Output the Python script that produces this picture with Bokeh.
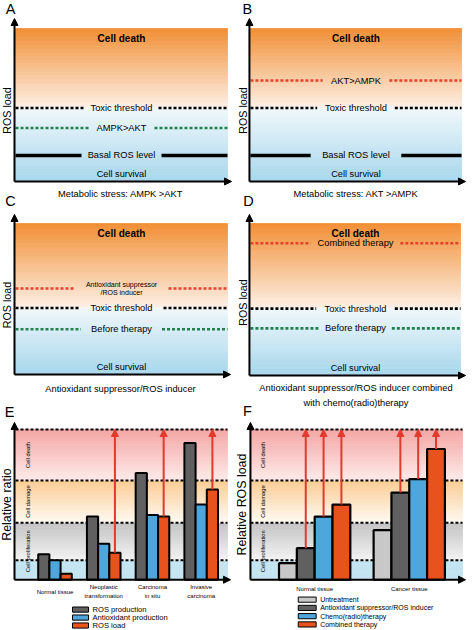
import numpy as np
from bokeh.plotting import figure
from bokeh.models import Range1d, Arrow, NormalHead, ColumnDataSource
from bokeh.layouts import gridplot
from bokeh.embed import file_html
from bokeh.resources import INLINE
from bokeh.core.properties import value

FONT = "Liberation Sans"

# ---------------- data ----------------
# Panels A-D : ROS load levels (0 = x axis, 10 = top of the shaded box)
A_levels = ["Toxic threshold", "AMPK>AKT", "Basal ROS level"]
A_values = [4.8, 3.5, 1.7]
B_levels = ["AKT>AMPK", "Toxic threshold", "Basal ROS level"]
B_values = [6.6, 4.8, 1.7]
C_levels = ["Antioxidant suppressor\n/ROS inducer", "Toxic threshold", "Before therapy"]
C_values = [5.7, 4.4, 3.0]
D_levels = ["Combined therapy", "Toxic threshold", "Before therapy"]
D_values = [8.7, 4.4, 3.1]

# Panel E : relative ratio
E_groups = ["Normal tissue", "Neoplastic\ntransformation", "Carcinoma\nin situ", "Invasive\ncarcinoma"]
E_series = ["ROS production", "Antioxidant production", "ROS load"]
E_ros_production = [1.7, 4.2, 7.1, 9.1]
E_antioxidant_production = [1.3, 2.4, 4.3, 5.0]
E_ros_load = [0.4, 1.8, 4.2, 6.0]
E_arrow = [False, True, True, True]

# Panel F : relative ROS load
F_groups = ["Normal tissue", "Cancer tissue"]
F_series = ["Untreatment", "Antioxidant suppressor/ROS inducer",
            "Chemo(radio)therapy", "Combined therapy"]
F_untreatment = [1.1, 3.3]
F_antioxidant_suppressor = [2.1, 5.8]
F_chemo_radio_therapy = [4.2, 6.7]
F_combined_therapy = [5.0, 8.7]
F_arrow_series = [False, True, True, True]

# zones of panels E/F
zone_levels = [1.3, 3.8, 6.6, 10.0]
zone_labels = ["Cell proliferation", "Cell damage", "Cell death"]
zone_label_spans = [(0.0, 3.8), (3.8, 6.6), (6.6, 10.0)]

# ---------------- styling / layout ----------------
CELL_W = [236, 237]
CELL_H = 210
OUT_W = [236, 236]
OUT_H = [210, 210, 209]

ORANGE_TOP, ORANGE_LOW = "#f28f35", "#fdf1e8"
BLUE_HIGH, BLUE_BOTTOM = "#f1f8fb", "#a7d7ec"
RED_LINE = "#e5412b"
GREEN_LINE = "#23804f"
ARROW_RED = "#e23a2c"
C_DARK, C_BLUE, C_ORANGE, C_LIGHT = "#606060", "#4ea6dc", "#e8521d", "#c8c8c8"
ZONE_COLORS = [("#c4e4f1", "#c4e4f1"), ("#f4f4f4", "#c3c3c3"),
               ("#fffaf3", "#fbcd95"), ("#fdecea", "#f4a6a5")]


def hex2rgb(h):
    h = h.lstrip("#")
    return tuple(int(h[i:i + 2], 16) for i in (0, 2, 4))


def mix(c0, c1, t):
    a, b = hex2rgb(c0), hex2rgb(c1)
    return "#%02x%02x%02x" % tuple(int(round(a[i] + (b[i] - a[i]) * t)) for i in range(3))


class Panel:
    def __init__(self, w, h, refw, refh, px0, xv0, px1, xv1, py0, yv0, py1, yv1):
        self.kx = (xv1 - xv0) / (px1 - px0)
        self.ky = (yv1 - yv0) / (py1 - py0)
        self.px0, self.xv0, self.py0, self.yv0 = px0, xv0, py0, yv0
        self.p = figure(width=w, height=h, title=None,
                        x_range=Range1d(self.X(0), self.X(refw)),
                        y_range=Range1d(self.Y(refh), self.Y(0)),
                        output_backend="svg", toolbar_location=None, min_border=0,
                        x_axis_location=None, y_axis_location=None,
                        outline_line_color=None, background_fill_color="white",
                        border_fill_color="white")
        self.p.grid.grid_line_color = None

    def X(self, px):
        return self.xv0 + (px - self.px0) * self.kx

    def Y(self, py):
        return self.yv0 + (py - self.py0) * self.ky

    def dx(self, px):
        return px * abs(self.kx)

    def dy(self, py):
        return py * abs(self.ky)


def gradient(p, x0, x1, y0, y1, c0, c1, n=40):
    ys = np.linspace(y0, y1, n + 1)
    cols = [mix(c0, c1, (i + 0.5) / n) for i in range(n)]
    p.quad(left=x0, right=x1, bottom=np.minimum(ys[:-1], ys[1:]), top=np.maximum(ys[:-1], ys[1:]),
           fill_color=cols, line_color=cols, line_width=0.8)


def txt(p, x, y, s, size, angle=0.0, bold=False, align="center", baseline="middle", color="black"):
    p.text(x=[x], y=[y], text=[s], text_font=value(FONT), text_font_size=size,
           text_align=align, text_baseline=baseline, angle=angle, text_color=color,
           text_font_style="bold" if bold else "normal")


def arrows(p, x0, y0, x1, y1, color, width, size):
    src = ColumnDataSource(dict(x0=list(x0), y0=list(y0), x1=list(x1), y1=list(y1)))
    p.add_layout(Arrow(end=NormalHead(size=size, fill_color=color, line_color=color, line_width=1),
                       x_start="x0", y_start="y0", x_end="x1", y_end="y1", source=src,
                       line_color=color, line_width=width))


def top_panel(col, row, g, levels, values, colors, dashes, widths, gaps, lab_sizes,
              xlabels, ylabel_y, letters):
    P = Panel(OUT_W[col], OUT_H[row], CELL_W[col], CELL_H,
              g["box_l"], 0.0, g["box_r"], 1.0, g["base"], 0.0, g["top"], 10.0)
    p = P.p
    thr = values[levels.index("Toxic threshold")]
    gradient(p, 0, 1, thr, 10, ORANGE_LOW, ORANGE_TOP, 45)
    gradient(p, 0, 1, thr, 0, BLUE_HIGH, BLUE_BOTTOM, 40)
    # level lines with a gap for the label
    for lv, v, c, d, wd, gp, fs in zip(levels, values, colors, dashes, widths, gaps, lab_sizes):
        gd = P.dx(gp)
        p.segment(x0=[0, 0.5 + gd], x1=[0.5 - gd, 1], y0=[v, v], y1=[v, v],
                  line_color=c, line_width=wd, line_dash=d)
        lines = lv.split("\n")
        n = len(lines)
        for k, s in enumerate(lines):
            off = (k - (n - 1) / 2) * 8.6
            txt(p, 0.5, v - P.dy(off), s, fs)
    txt(p, 0.5, 9.35, "Cell death", "10px", bold=True)
    txt(p, 0.5, 0.5, "Cell survival", "9.2px")
    # axes
    ax = P.X(g["axis"])
    arrows(p, [ax, ax], [0, 0], [ax, P.X(g["xtip"])], [P.Y(g["ytip"]), 0], "black", 2, 7)
    for s, py in xlabels:
        txt(p, P.X(120), P.Y(py), s, "9.3px")
    txt(p, P.X(6.5), P.Y(ylabel_y), "ROS load", "10.7px", angle=np.pi / 2)
    for s, lx, ly in letters:
        txt(p, P.X(lx), P.Y(ly), s, "14.5px")
    return p


DOT = "3 2"
pA = top_panel(0, 0, dict(axis=14, box_l=15, box_r=227, top=28, base=181, ytip=18, xtip=231),
               A_levels, A_values, ["black", GREEN_LINE, "black"], [DOT, DOT, "solid"],
               [2.6, 2.6, 3.6], [37, 33, 40], ["9.3px", "9.3px", "9.3px"],
               [("Metabolic stress: AMPK >AKT", 193)], 110, [("A", 10, 8), ("C", 10, 200)])
pB = top_panel(1, 0, dict(axis=13, box_l=14, box_r=226, top=28, base=181, ytip=18, xtip=230),
               B_levels, B_values, [RED_LINE, "black", "black"], [DOT, DOT, "solid"],
               [2.6, 2.6, 3.6], [33.5, 39, 45.5], ["9.3px", "9.3px", "9.3px"],
               [("Metabolic stress: AKT >AMPK", 193)], 110, [("B", 11, 8), ("D", 12, 200)])
pC = top_panel(0, 1, dict(axis=14, box_l=15, box_r=227, top=13, base=164, ytip=4, xtip=230),
               C_levels, C_values, [RED_LINE, "black", GREEN_LINE], [DOT, DOT, DOT],
               [2.6, 2.6, 2.6], [47, 42, 40.5], ["7px", "9.3px", "9.3px"],
               [("Antioxidant suppressor/ROS inducer", 178)], 94.5, [("E", 9, 201)])
pD = top_panel(1, 1, dict(axis=13, box_l=14, box_r=225, top=13, base=165, ytip=4, xtip=230),
               D_levels, D_values, [RED_LINE, "black", GREEN_LINE], [DOT, DOT, DOT],
               [2.6, 2.6, 2.6], [45, 39.5, 36.5], ["9.3px", "9.3px", "9.3px"],
               [("Antioxidant suppressor/ROS inducer combined", 177),
                ("with chemo(radio)therapy", 192)], 92, [("F", 11, 200)])


def zones(P, bl, br):
    p = P.p
    bounds = [0.0] + zone_levels
    for i in range(len(zone_levels)):
        c_low, c_high = ZONE_COLORS[i]
        gradient(p, bl, br, bounds[i], bounds[i + 1], c_low, c_high, 22)
    p.segment(x0=[bl] * len(zone_levels), x1=[br] * len(zone_levels), y0=zone_levels,
              y1=zone_levels, line_color="black", line_width=2, line_dash=DOT)
    for s, (a, b) in zip(zone_labels, zone_label_spans):
        txt(p, P.X(27), (a + b) / 2, s, "5.8px", angle=np.pi / 2)


# ---------------- panel E ----------------
PE = Panel(OUT_W[0], OUT_H[2], CELL_W[0], CELL_H, 54.5, 0.0, 200.7, 3.0, 160, 0.0, 9, 10.0)
pE = PE.p
zones(PE, PE.X(15), PE.X(227))
bwE = PE.dx(11.2)
xE = np.arange(len(E_groups), dtype=float)
for j, (vals, col) in enumerate(zip([E_ros_production, E_antioxidant_production, E_ros_load],
                                    [C_DARK, C_BLUE, C_ORANGE])):
    pE.vbar(x=xE + (j - 1) * bwE, top=vals, bottom=0, width=bwE, fill_color=col,
            line_color="black", line_width=2)
ia = [i for i in range(len(E_groups)) if E_arrow[i]]
arrows(pE, [xE[i] + bwE for i in ia], [E_ros_load[i] for i in ia],
       [xE[i] + bwE for i in ia], [zone_levels[-1]] * len(ia), ARROW_RED, 2, 7)
axE = PE.X(14)
arrows(pE, [axE, axE], [0, 0], [axE, PE.X(230)], [PE.Y(2), 0], "black", 2, 7)
txt(pE, PE.X(6), 5.0, "Relative ratio", "12.4px", angle=np.pi / 2)
for i, gname in enumerate(E_groups):
    lines = gname.split("\n")
    if len(lines) == 1:
        txt(pE, xE[i], PE.Y(172), lines[0], "6px")
    else:
        for k, s in enumerate(lines):
            txt(pE, xE[i], PE.Y(167 + 9 * k), s, "6px")
for k, (s, col) in enumerate(zip(E_series, [C_DARK, C_BLUE, C_ORANGE])):
    yy = PE.Y(190 + 8 * k)
    pE.quad(left=[PE.X(72)], right=[PE.X(88)], bottom=[yy - PE.dy(2.6)], top=[yy + PE.dy(2.6)],
            fill_color=col, line_color="black", line_width=1)
    txt(pE, PE.X(92), yy, s, "7.6px", align="left")

# ---------------- panel F ----------------
PF = Panel(OUT_W[1], OUT_H[2], CELL_W[1], CELL_H, 78.5, 0.0, 173.5, 1.0, 160, 0.0, 9, 10.0)
pF = PF.p
zones(PF, PF.X(14), PF.X(227))
bwF = PF.dx(17.9)
xF = np.arange(len(F_groups), dtype=float)
F_vals = [F_untreatment, F_antioxidant_suppressor, F_chemo_radio_therapy, F_combined_therapy]
F_cols = [C_LIGHT, C_DARK, C_BLUE, C_ORANGE]
for j, (vals, col) in enumerate(zip(F_vals, F_cols)):
    pF.vbar(x=xF + (j - 1.5) * bwF, top=vals, bottom=0, width=bwF, fill_color=col,
            line_color="black", line_width=2.2)
ax0, ay0, ax1, ay1 = [], [], [], []
for j, vals in enumerate(F_vals):
    if F_arrow_series[j]:
        for i in range(len(F_groups)):
            ax0.append(xF[i] + (j - 1.5) * bwF)
            ay0.append(vals[i])
            ax1.append(xF[i] + (j - 1.5) * bwF)
            ay1.append(zone_levels[-1])
arrows(pF, ax0, ay0, ax1, ay1, ARROW_RED, 2, 7)
axF = PF.X(14)
arrows(pF, [axF, axF], [0, 0], [axF, PF.X(230)], [PF.Y(2), 0], "black", 2, 7)
txt(pF, PF.X(6), 5.0, "Relative ROS load", "12.4px", angle=np.pi / 2)
for i, gname in enumerate(F_groups):
    txt(pF, xF[i], PF.Y(169), gname, "6px")
for k, (s, col) in enumerate(zip(F_series, F_cols)):
    yy = PF.Y(180 + 8.3 * k)
    pF.quad(left=[PF.X(62)], right=[PF.X(80)], bottom=[yy - PF.dy(2.6)], top=[yy + PF.dy(2.6)],
            fill_color=col, line_color="black", line_width=1)
    txt(pF, PF.X(84), yy, s, "7px", align="left")

grid = gridplot([[pA, pB], [pC, pD], [pE, pF]], toolbar_location=None)
open("out.html", "w").write(file_html(grid, INLINE))
